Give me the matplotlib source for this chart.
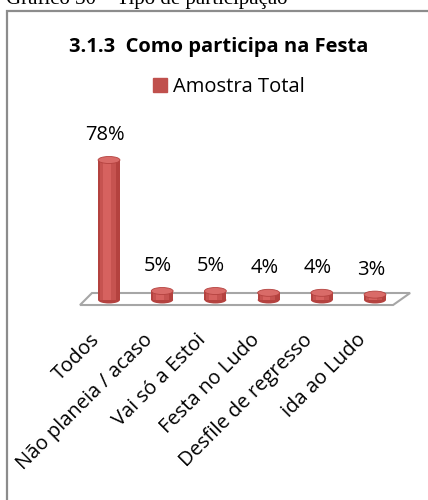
import matplotlib.pyplot as plt
import matplotlib.transforms as mtransforms
from matplotlib.patches import Ellipse, Polygon, Rectangle

plt.rcParams['font.family'] = ['Open Sans', 'DejaVu Sans']

categories = ['Todos', 'Não planeia / acaso', 'Vai só a Estoi', 'Festa no Ludo',
              'Desfile de regresso', 'ida ao Ludo']
values = [78, 5, 5, 4, 4, 3]
series_name = 'Amostra Total'
title = '3.1.3  Como participa na Festa'
caption = 'Gráfico 30 – Tipo de participação'

W, H = 428, 500
fig = plt.figure(figsize=(W / 100, H / 100), dpi=100)

# outer frame (only top and left edges are visible in the crop)
fig.patches.append(Rectangle((7 / W, -0.1), 1.2, 1 - 11 / H + 0.1, transform=fig.transFigure,
                             fill=False, edgecolor='#8c8c8c', lw=1.6))
fig.text(6 / W, 1 - 4 / H, caption, family='Liberation Serif', fontsize=15, va='baseline')

fig.text(219 / W, 1 - 47 / H, title, fontsize=14.5, fontweight='bold', ha='center', va='center')

# plot area: x=-0.5..5.5 -> px 82.4..401.6, y=0 at px 300
ax = fig.add_axes([82.4 / W, 200 / H, 319.2 / W, 150 / H])
ax.set_xlim(-0.5, 5.5)
ax.set_ylim(0, 83.57)
ax.axis('off')
ax.set_facecolor('none')

x = list(range(len(values)))
bw = 0.41
eh = 3.9
dark, mid, light, top = '#B4423F', '#C65350', '#D6625F', '#D96B68'

# 3D floor
floor = Polygon([(-0.545, -2.79), (5.34, -2.79), (5.66, 3.9), (-0.32, 3.9)], closed=True,
                facecolor='white', edgecolor='#a6a6a6', lw=1.5, clip_on=False, zorder=1)
ax.add_patch(floor)

for xi, v in zip(x, values):
    ax.add_patch(Ellipse((xi, 0), bw, eh, facecolor=dark, edgecolor='none', zorder=2, clip_on=False))
bars = ax.bar(x, values, width=bw, color=dark, zorder=3, label=series_name)
ax.bar([xi - 0.02 for xi in x], values, width=bw * 0.72, color=mid, zorder=3)
ax.bar([xi - 0.04 for xi in x], values, width=bw * 0.36, color=light, zorder=3)
for xi, v in zip(x, values):
    ax.add_patch(Ellipse((xi, v), bw, eh, facecolor=top, edgecolor=dark, lw=0.6, zorder=4,
                         clip_on=False))
    ax.annotate(f'{v}%', (xi, v), xytext=(-3, 18), textcoords='offset points',
                ha='center', va='center', fontsize=14.5)

# category labels, rotated
off = mtransforms.ScaledTranslation(-5 / 100, -30 / 100, fig.dpi_scale_trans)
for xi, lab in zip(x, categories):
    ax.text(xi, 0, lab, rotation=45, ha='right', va='top', fontsize=14.5,
            transform=ax.transData + off, clip_on=False)

leg = fig.legend(handles=[bars.patches[0]], labels=[series_name], loc='center',
                 bbox_to_anchor=(229 / W, 1 - 87 / H), frameon=False, fontsize=14.5,
                 handlelength=0.7, handleheight=0.7, handletextpad=0.3)
leg.legend_handles[0].set_color('#C0504D')

fig.savefig('out.png', dpi=100)
